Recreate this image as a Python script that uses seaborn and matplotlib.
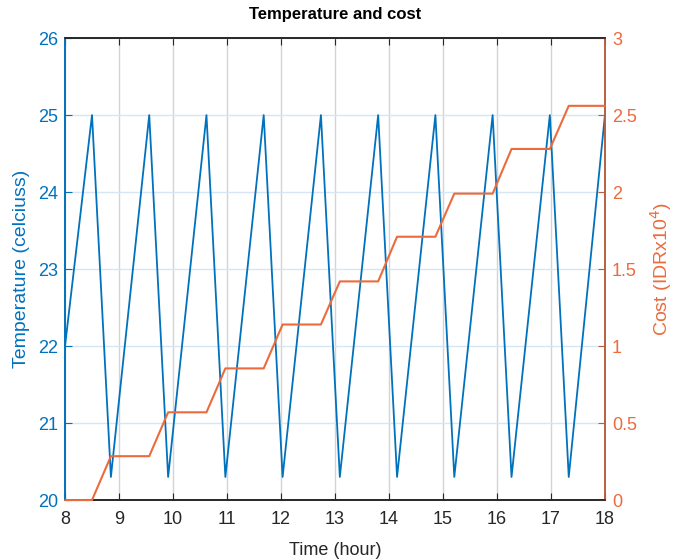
import numpy as np
import pandas as pd
import matplotlib
matplotlib.use("Agg")
import matplotlib.pyplot as plt
import seaborn as sns

# Data
temp_time = [8.0, 8.5, 8.85, 9.56, 9.91, 10.62, 10.97, 11.68, 12.03, 12.74, 13.09,
             13.80, 14.15, 14.86, 15.21, 15.92, 16.27, 16.98, 17.33, 18.0]
temp_vals = [22.0, 25.0, 20.3, 25.0, 20.3, 25.0, 20.3, 25.0, 20.3, 25.0, 20.3,
             25.0, 20.3, 25.0, 20.3, 25.0, 20.3, 25.0, 20.3, 25.0]

cost_time = [8.0, 8.5, 8.85, 9.56, 9.91, 10.62, 10.97, 11.68, 12.03, 12.74, 13.09,
             13.80, 14.15, 14.86, 15.21, 15.92, 16.27, 16.98, 17.33, 18.0]
cost_vals = [0.0, 0.0, 0.285, 0.285, 0.57, 0.57, 0.855, 0.855, 1.14, 1.14, 1.42,
             1.42, 1.71, 1.71, 1.99, 1.99, 2.28, 2.28, 2.56, 2.56]

x_ticks = [8, 9, 10, 11, 12, 13, 14, 15, 16, 17, 18]
temp_ticks = [20, 21, 22, 23, 24, 25, 26]
cost_ticks = [0, 0.5, 1, 1.5, 2, 2.5, 3]
cost_tick_labels = ["0", "0.5", "1", "1.5", "2", "2.5", "3"]

BLUE = "#0072BD"
ORANGE = "#EC6B3C"
ORANGE_AX = "#B8603E"

sns.set_style("white")
plt.rcParams["font.family"] = ["Liberation Sans", "DejaVu Sans"]

fig = plt.figure(figsize=(6.8, 5.6), dpi=100)
ax = fig.add_axes([0.0956, 0.107, 0.794, 0.825])
ax2 = ax.twinx()

df_t = pd.DataFrame({"time": temp_time, "temp": temp_vals})
df_c = pd.DataFrame({"time": cost_time, "cost": cost_vals})

sns.lineplot(data=df_t, x="time", y="temp", ax=ax, color=BLUE, linewidth=1.3,
             estimator=None, sort=False, zorder=3)
sns.lineplot(data=df_c, x="time", y="cost", ax=ax2, color=ORANGE, linewidth=1.5,
             estimator=None, sort=False, zorder=5)
for ln in ax2.get_lines():
    ln.set_clip_on(False)

ax.set_xlim(8, 18)
ax.set_ylim(20, 26)
ax2.set_ylim(0, 3)
ax.set_xticks(x_ticks)
ax.set_yticks(temp_ticks)
ax2.set_yticks(cost_ticks)
ax2.set_yticklabels(cost_tick_labels)

# grids: vertical gray, horizontal light blue
ax.grid(True, axis="x", color="#d4d4d4", linewidth=1.0)
ax.grid(True, axis="y", color="#d6e6f5", linewidth=1.0)
ax2.grid(False)

ax.tick_params(axis="x", direction="in", length=5, colors="#262626", labelsize=13,
               top=True, bottom=True, pad=8)
ax.tick_params(axis="y", direction="in", length=5, colors=BLUE, labelsize=13, pad=5)
ax2.tick_params(axis="y", direction="in", length=5, colors=ORANGE_AX, labelcolor=ORANGE,
                labelsize=13, pad=5)
for lab in ax.get_xticklabels():
    lab.set_color("#262626")
for lab in ax.get_yticklabels():
    lab.set_color(BLUE)

for a in (ax, ax2):
    a.spines["top"].set_color("#262626")
    a.spines["bottom"].set_color("#262626")
    a.spines["left"].set_color(BLUE)
    a.spines["right"].set_color(ORANGE_AX)
    for s in a.spines.values():
        s.set_linewidth(1.2)

ax.set_xlabel("Time (hour)", fontsize=13, color="#262626", labelpad=10)
ax.set_ylabel("Temperature (celciuss)", fontsize=14, color=BLUE, labelpad=6)
ax2.set_ylabel("Cost (IDRx10$^4$)", fontsize=14, color=ORANGE, labelpad=8)
ax.set_title("Temperature and cost", fontsize=12, fontweight="bold", color="black", pad=14)

fig.savefig("out.png", dpi=100)
